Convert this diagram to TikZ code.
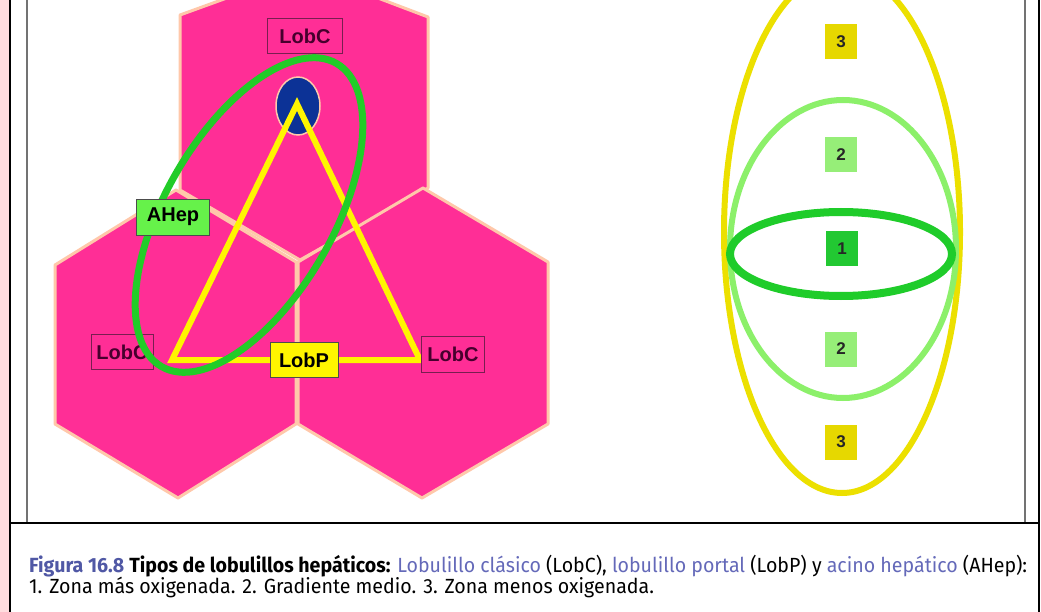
\documentclass[tikz,border=0pt]{standalone}
\usepackage{fontspec}
\usetikzlibrary{shapes.geometric}
\setmainfont{Liberation Sans}
\newfontfamily\capfont{Fira Sans}
\definecolor{pinkbg}{RGB}{255,221,223}
\definecolor{hexpink}{RGB}{255,46,150}
\definecolor{hexedge}{RGB}{255,200,170}
\definecolor{lobcedge}{RGB}{120,30,80}
\definecolor{lobctext}{RGB}{70,0,45}
\definecolor{triyellow}{RGB}{255,245,0}
\definecolor{ahepgreen}{RGB}{34,204,40}
\definecolor{ahepbox}{RGB}{102,242,74}
\definecolor{portalblue}{RGB}{12,50,150}
\definecolor{zoneyellow}{RGB}{236,224,0}
\definecolor{zonelight}{RGB}{140,240,106}
\definecolor{zonedark}{RGB}{31,204,42}
\definecolor{boxthree}{RGB}{230,216,0}
\definecolor{boxtwo}{RGB}{150,238,120}
\definecolor{boxone}{RGB}{34,200,50}
\definecolor{figblue}{RGB}{80,88,165}
\definecolor{linkblue}{RGB}{100,105,185}
\newsavebox\capbox
\newdimen\capw
\tikzset{
  hex/.style={fill=hexpink, draw=hexedge, line width=3pt, line join=round},
  lab/.style={inner sep=0pt, font=\bfseries\fontsize{20}{20}\selectfont, line width=0.8pt},
  lobc/.style={lab, fill=hexpink, draw=lobcedge, text=lobctext},
  zonebox/.style={inner sep=0pt, minimum width=32pt, minimum height=35pt, font=\bfseries\fontsize{17}{17}\selectfont, text=black!85},
  capline/.style={anchor=base west, inner sep=0pt},
  frame/.style={line width=1.6pt, draw=black},
  innerframe/.style={line width=1.3pt, draw=black!55}
}
\newcommand\capsize{\capfont\fontsize{20.5}{22}\selectfont}
\sbox\capbox{\capsize{\bfseries\color{figblue}Figura 16.8} {\bfseries Tipos de lobulillos hepáticos:} {\color{linkblue}Lobulillo clásico} (LobC), {\color{linkblue}lobulillo portal} (LobP) y {\color{linkblue}acino hepático} (AHep):}
\capw=\wd\capbox
\pgfmathsetmacro\capsx{998/\capw}
\begin{document}
\begin{tikzpicture}[x=1pt,y=-1pt]
\useasboundingbox (0,0) rectangle (1041,612);
\fill[white] (0,0) rectangle (1041,612);
\fill[pinkbg] (0,0) rectangle (10,612);
% frame
\draw[innerframe] (27,0) -- (27,523);
\draw[innerframe] (1025,0) -- (1025,523);
\draw[frame] (10,0) -- (10,612);
\draw[frame] (1039,0) -- (1039,612);
\draw[frame] (10,523) -- (1039,523);
% hexagons
\begin{scope}
\clip (28,0) rectangle (1024,522);
\draw[hex] (304,-30) -- (428,17) -- (428,188) -- (300,260) -- (180,190) -- (180,15) -- cycle;
\draw[hex] (176,190) -- (296,262) -- (296,424) -- (178,498) -- (55,424) -- (55,265) -- cycle;
\draw[hex] (423,188) -- (548,262) -- (548,424) -- (422,498) -- (298,424) -- (298,262) -- cycle;
% portal vein
\node[ellipse, draw=hexedge, line width=1.5pt, fill=portalblue, minimum width=44pt, minimum height=58pt, inner sep=0pt] (pv) at (298,106) {};
% triangle (portal lobule)
\coordinate (t1) at (297,104);
\coordinate (t2) at (172,360);
\coordinate (t3) at (420,360);
\draw[triyellow, line width=6pt, line join=miter] (t1) -- (t2) -- (t3) -- cycle;
% labels LobC
\node[lobc, minimum width=75pt, minimum height=35pt] (lobctop) at (305,36) {LobC};
\node[lobc, minimum width=62pt, minimum height=35pt] (lobcleft) at (122,352) {LobC};
\node[lobc, minimum width=63pt, minimum height=36pt] (lobcright) at (453,354) {LobC};
% acinus ellipse
\draw[ahepgreen, line width=7pt, rotate around={60:(249,215)}] (249,215) ellipse [x radius=175, y radius=84];
\node[lab, fill=ahepbox, draw=black!70, minimum width=73pt, minimum height=36pt] (ahep) at (173,217) {AHep};
\node[lab, fill=triyellow, draw=black!70, minimum width=68pt, minimum height=35pt] (lobp) at (304,360) {LobP};
% zones
\draw[zoneyellow, line width=6pt] (842,232) ellipse [x radius=118, y radius=261];
\draw[zonelight, line width=6pt] (843,249) ellipse [x radius=113, y radius=149];
\draw[zonedark, line width=8pt] (841,254) ellipse [x radius=111, y radius=42];
\end{scope}
\node[zonebox, fill=boxthree] (z3a) at (841,42) {3};
\node[zonebox, fill=boxtwo] (z2a) at (841,155) {2};
\node[zonebox, fill=boxone] (z1) at (842,249) {1};
\node[zonebox, fill=boxtwo] (z2b) at (841,349) {2};
\node[zonebox, fill=boxthree] (z3b) at (841,442) {3};
% caption
\node[capline] (cap1) at (29,572) {\scalebox{\capsx}[1]{\usebox\capbox}};
\node[capline] (cap2) at (29,593) {\scalebox{\capsx}[1]{\capsize 1. Zona más oxigenada. 2. Gradiente medio. 3. Zona menos oxigenada.}};
\end{tikzpicture}
\end{document}
